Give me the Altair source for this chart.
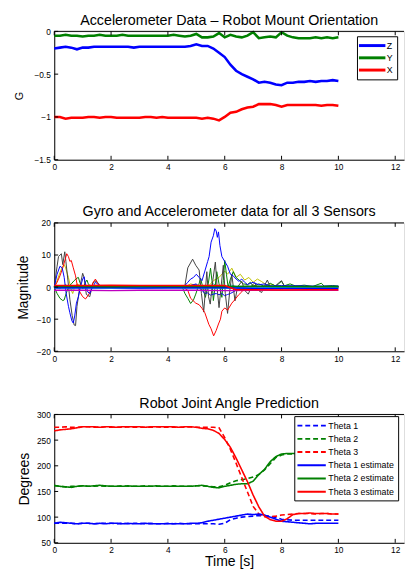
import altair as alt
import pandas as pd

FONT = "Liberation Sans"
W = 357
H = 131
XMAX = 12.31

x_ticks = [0, 2, 4, 6, 8, 10, 12]
y1_ticks = [0, -0.5, -1, -1.5]
y2_ticks = [-20, -10, 0, 10, 20]
y3_ticks = [50, 100, 150, 200, 250, 300]

# ---------------- Panel 1 : accelerometer (G) ----------------
t_grid = [0.0, 0.2, 0.4, 0.6, 0.8, 1.0, 1.2, 1.4, 1.6, 1.8, 2.0, 2.2, 2.4, 2.6, 2.8,
          3.0, 3.2, 3.4, 3.6, 3.8, 4.0, 4.2, 4.4, 4.6, 4.8, 5.0, 5.2, 5.4, 5.6, 5.8,
          6.0, 6.2, 6.4, 6.6, 6.8, 7.0, 7.2, 7.4, 7.6, 7.8, 8.0, 8.2, 8.4, 8.6, 8.8,
          9.0, 9.2, 9.4, 9.6, 9.8, 10.0]
acc_z = [-0.20, -0.19, -0.18, -0.19, -0.21, -0.19, -0.19, -0.18, -0.18, -0.18,
         -0.18, -0.18, -0.18, -0.18, -0.19, -0.18, -0.18, -0.18, -0.18, -0.18,
         -0.18, -0.18, -0.18, -0.18, -0.17, -0.15, -0.17, -0.17, -0.20, -0.25,
         -0.30, -0.39, -0.46, -0.50, -0.53, -0.56, -0.60, -0.59, -0.60, -0.62,
         -0.63, -0.60, -0.60, -0.59, -0.59, -0.58, -0.59, -0.58, -0.58, -0.57, -0.58]
acc_y = [-0.05, -0.05, -0.04, -0.05, -0.05, -0.06, -0.05, -0.05, -0.04, -0.05,
         -0.05, -0.05, -0.04, -0.05, -0.05, -0.05, -0.05, -0.05, -0.05, -0.05,
         -0.05, -0.04, -0.05, -0.06, -0.05, -0.03, -0.07, -0.07, -0.06, -0.02,
         -0.07, -0.04, -0.06, -0.07, -0.05, -0.01, -0.08, -0.07, -0.06, -0.07,
         -0.01, -0.05, -0.07, -0.08, -0.08, -0.08, -0.07, -0.08, -0.07, -0.08, -0.07]
acc_x = [-1.00, -1.00, -1.02, -1.01, -1.01, -1.01, -1.00, -1.00, -1.01, -1.00,
         -1.00, -1.01, -1.01, -1.01, -1.01, -1.01, -1.00, -1.00, -1.01, -1.00,
         -1.01, -1.01, -1.01, -1.01, -1.01, -1.01, -1.02, -1.01, -1.02, -1.04,
         -1.00, -0.95, -0.94, -0.91, -0.89, -0.88, -0.85, -0.85, -0.85, -0.86,
         -0.88, -0.86, -0.86, -0.86, -0.86, -0.86, -0.86, -0.87, -0.86, -0.86, -0.87]
acc_names = ["Z", "Y", "X"]
acc_colors = ["#0000ff", "#008000", "#ff0000"]

# ---------------- Panel 2 : gyro + accelerometer, 3 sensors ----------------
g_k_t = [0, 0.1, 0.15, 0.25, 0.3, 0.37, 0.41, 0.48, 0.55, 0.63, 0.7, 0.75, 0.8, 0.9, 1.0,
         1.05, 1.13, 1.25, 1.36, 1.48, 1.6, 1.7, 2.5, 3.5, 4.5, 4.6, 4.7, 4.87, 4.98, 5.1,
         5.18, 5.26, 5.37, 5.43, 5.49, 5.58, 5.67, 5.74, 5.8, 5.87, 5.95, 6.02, 6.1, 6.18, 6.25,
         6.36, 6.45, 6.6, 6.7, 6.83, 6.95, 7.06, 7.18, 7.3, 7.4, 7.5, 7.6, 7.7, 7.8, 7.9,
         8.0, 8.1, 8.3, 8.5, 8.8, 9.1, 9.4, 9.7, 10.0]
g_k_v = [0, 6.5, 9.5, 10.4, 7, 11, 8, 2.2, -3.8, -8.8, -11.8, -12, -6, 0, 4.3,
         3, -2.3, -3, 1.3, 2, 0.5, 0, 0.1, 0, 0.1, 0.5, 6, 8.7, 6.8, 5.3,
         -2, -7.8, 4.8, -3, -5.3, 2, 7.8, -1, -6.4, 0, 6.8, -2, -8.2, -1, 3.9,
         -4.3, 0, 1.8, -1, -2.2, 0.5, 1.3, -1, -1.7, 0.5, 2.2, 0, -0.2, 0.5, 1.3,
         2, 0.2, -0.3, 0.3, 0, 0.2, -0.2, 0.1, 0]
g_r_t = [0, 0.1, 0.2, 0.3, 0.38, 0.44, 0.5, 0.55, 0.6, 0.67, 0.75, 0.8, 0.9, 1.0, 1.1,
         1.2, 1.3, 1.37, 1.45, 1.5, 1.6, 1.7, 3, 4.5, 4.7, 4.8, 4.98, 5.1, 5.2, 5.3,
         5.44, 5.52, 5.61, 5.7, 5.78, 5.85, 5.9, 6.0, 6.1, 6.25, 6.35, 6.48, 6.6, 6.7, 6.85,
         7.0, 7.5, 8, 9, 10]
g_r_v = [0, 1.5, 3.5, 6, 8.5, 10.4, 9.5, 8, 8.3, 6, 3.5, 1, -1.5, -3, -3.7,
         -2.5, -0.8, 1.5, 2.5, 1.5, 0.5, 0.3, 0.3, 0.2, -1, -3.5, -5, -5.5, -6.6, -8,
         -11.6, -13, -15.2, -13.5, -11.5, -10, -7.5, -6.5, -7.2, -5, -4, -2.5, -1.5, 0, -0.5,
         0.3, 0, 0.2, 0, 0]
g_b_t = [0, 0.1, 0.2, 0.28, 0.35, 0.42, 0.5, 0.55, 0.62, 0.67, 0.72, 0.78, 0.85, 0.92, 1.0,
         1.05, 1.1, 1.18, 1.25, 1.35, 1.45, 1.52, 1.6, 1.7, 3, 4.5, 4.6, 4.7, 4.8, 4.9,
         5.0, 5.1, 5.2, 5.3, 5.4, 5.45, 5.52, 5.6, 5.65, 5.7, 5.74, 5.78, 5.83, 5.9, 6.0,
         6.1, 6.2, 6.3, 6.4, 6.5, 6.6, 6.7, 6.8, 7.0, 7.2, 7.4, 7.6, 8.0, 8.5, 9, 10]
g_b_v = [0, 4, 6.5, 6, 3, -2, -6, -8, -10.5, -11.2, -9, -5, -3, 0, 2.5,
         3.2, 1, -1.5, -2, 0, 1.5, 1, 0.3, 0.2, 0.2, 0.2, 0.5, 1.5, 2.5, 3,
         4, 3, 2, 5, 8, 9.5, 14, 16, 18.2, 17.5, 15.5, 17.2, 13, 9.5, 8,
         6.5, 4, 3.5, 2.5, 1.8, 2.5, 1.5, 0.8, 1.5, 0.7, 1, 0.3, 0.5, 0.3, 0.2, 0.2]
g_b2_t = [0, 1.7, 4.6, 4.8, 5.0, 5.1, 5.2, 5.3, 5.4, 5.5, 5.6, 5.7, 5.8, 5.9, 6.0,
          6.1, 6.2, 6.3, 6.4, 6.6, 6.8, 7.0, 7.5, 8, 8.5, 9, 10]
g_b2_v = [0, 0, 0, 0.5, 1, 0, -1, -2, -1.8, -2.5, -2.2, -2, -2.4, -2, -2.7,
          -2.3, -2, -1.5, -1, 0, 0.3, 0, 0.4, 0.2, 0.4, 0.3, 0.3]
g_g_t = [0, 0.1, 0.2, 0.3, 0.35, 0.4, 0.5, 0.6, 0.7, 0.8, 0.85, 0.9, 1.0, 1.1, 1.15,
         1.2, 1.3, 1.4, 1.6, 1.7, 3, 4.5, 4.6, 4.7, 4.8, 4.9, 4.98, 5.08, 5.15, 5.25,
         5.32, 5.42, 5.5, 5.55, 5.6, 5.66, 5.72, 5.8, 5.9, 5.95, 6.0, 6.06, 6.12, 6.2, 6.3,
         6.4, 6.53, 6.65, 6.8, 6.9, 7.0, 7.2, 7.4, 7.6, 7.8, 8.0, 8.1, 8.3, 8.5, 8.8,
         9.1, 9.4, 9.5, 9.8, 10]
g_g_v = [0, -2, -3.5, -4.2, -4, -2.5, 0, 1, 2, 2.8, 3, 1.5, -0.5, 1.5, 2.2,
         1, 0, 0.5, 0.2, 0.1, 0.1, 0.1, -2, -3.5, -5.1, -4, -2.2, 0.5, 2.8, -1,
         -3.2, 1, 5.9, 2, -4.2, 0, 4.8, 1, -3.2, 2, 8.3, 4, 0, 2.5, 4.8,
         3, 2, 1, 0.8, 1.5, 0.3, 1, 0.2, 1.2, 0.3, 1.8, 0.4, 1, 0.3, 0.6,
         0.2, 1.2, 0.3, 0.5, 0.3]
g_y_t = [0, 0.1, 0.2, 0.3, 0.35, 0.4, 0.5, 0.6, 0.65, 0.7, 0.8, 0.9, 1.0, 1.2, 1.6,
         4.6, 4.8, 5.0, 5.2, 5.4, 5.6, 5.8, 6.0, 6.1, 6.25, 6.4, 6.55, 6.7, 6.85, 7.0,
         7.15, 7.3, 7.5, 7.7, 8.0, 8.1, 8.5, 10]
g_y_v = [0, 2, 4.5, 6.5, 7, 6, 3, -1, -2, -0.5, 1, 0.5, 0, 0.3, 0,
         0, 1, 0.5, -1, 0, 2, 3, 5, 4, 5.9, 3, 4, 2.2, 3, 1.5,
         2.5, 1.7, 0.5, 0.8, -1, 0.2, 0, 0]
g_c_t = [0, 0.2, 0.4, 0.6, 0.8, 1.0, 1.4, 2, 4.6, 5.0, 5.3, 5.6, 5.9, 6.2, 6.6, 7, 8, 10]
g_c_v = [0, -0.5, 0.8, -0.8, 0.5, -0.3, 0.2, 0, 0, 0.8, -0.6, 1, -0.5, 0.7, -0.3, 0.3, 0, 0]

a_t = [0, 1, 2, 3, 4, 5, 6, 7, 8, 9, 10]
a_r_t = [0, 1, 2, 3, 4, 5, 6, 6.4, 7, 8, 9, 10]
a_r_v = [0.5, 0.5, 0.6, 0.5, 0.5, 0.5, 0.5, -0.8, -0.8, -0.9, -0.8, -0.8]
a_m_v = [-1.0, -1.0, -1.1, -1.0, -1.0, -1.0, -1.1, -1.0, -1.0, -1.0, -1.0]
a_c_v = [-0.3, -0.3, -0.3, -0.2, -0.3, -0.3, -0.3, -0.3, -0.2, -0.3, -0.3]
a_g_v = [0.2, 0.2, 0.1, 0.2, 0.2, 0.2, 0.2, 0.3, 0.2, 0.2, 0.2]
a_b_v = [-0.2, -0.2, -0.2, -0.3, -0.2, -0.2, -0.2, -0.4, -0.4, -0.4, -0.4]
a_k_v = [0.1, 0.1, 0.1, 0.1, 0.0, 0.1, 0.1, 0.1, 0.1, 0.1, 0.1]

gyro_series = [("gc", g_c_t, g_c_v), ("gy", g_y_t, g_y_v), ("gg", g_g_t, g_g_v),
               ("gb2", g_b2_t, g_b2_v), ("gk", g_k_t, g_k_v), ("gr", g_r_t, g_r_v),
               ("gb", g_b_t, g_b_v)]
gyro_colors = ["#00bfbf", "#bfbf00", "#008000", "#0000ff", "#404040", "#ff0000", "#0000ff"]
acc_series = [("ak", a_t, a_k_v), ("ac", a_t, a_c_v), ("ab", a_t, a_b_v),
              ("ag", a_t, a_g_v), ("am", a_t, a_m_v), ("ar", a_r_t, a_r_v)]
acc2_colors = ["#404040", "#00bfbf", "#0000ff", "#008000", "#bf00bf", "#ff0000"]

# ---------------- Panel 3 : joint angles ----------------
th1 = [88, 88, 88, 88, 87, 88, 88, 87, 88, 88,
       88, 87, 88, 87, 88, 88, 87, 88, 87, 87,
       88, 87, 88, 87, 87, 87, 87, 87, 87, 86,
       88, 95, 98, 100, 101, 102, 103, 103, 102, 99,
       96, 95, 94, 94, 94, 94, 94, 94, 94, 94, 94]
th1_est = [88, 90, 89, 88, 87, 88, 88, 87, 88, 87,
           88, 88, 87, 88, 87, 87, 88, 87, 87, 87,
           87, 87, 87, 87, 88, 88, 89, 92, 94, 96,
           98, 100, 102, 104, 106, 105, 106, 104, 100, 96,
           92, 91, 90, 89, 88, 87, 88, 88, 88, 88, 88]
th2 = [161, 160, 159, 160, 160, 161, 160, 160, 161, 160,
       160, 160, 161, 160, 160, 160, 161, 160, 160, 160,
       160, 161, 160, 160, 160, 161, 161, 160, 159, 159,
       162, 167, 171, 173, 175, 178, 183, 192, 204, 216,
       221, 223, 223, 223, 222, 223, 223, 223, 222, 223, 223]
th2_est = [162, 160, 159, 158, 160, 161, 160, 161, 162, 161,
           160, 160, 160, 161, 160, 160, 160, 160, 161, 160,
           160, 160, 160, 160, 160, 161, 162, 160, 158, 157,
           160, 162, 164, 165, 165, 170, 183, 193, 208, 218,
           223, 224, 224, 224, 223, 224, 224, 223, 224, 224, 224]
th3 = [275, 275, 276, 275, 275, 276, 276, 275, 275, 276,
       275, 275, 275, 276, 275, 275, 275, 275, 276, 275,
       275, 275, 275, 275, 276, 275, 275, 275, 275, 274,
       255, 232, 205, 177, 149, 121, 106, 101, 101, 102,
       104, 105, 106, 107, 107, 107, 106, 107, 107, 106, 106]
th3_est = [268, 270, 271, 272, 274, 276, 276, 276, 275, 276,
           276, 275, 276, 276, 276, 276, 275, 276, 276, 276,
           276, 276, 275, 276, 276, 275, 273, 272, 269, 263,
           251, 236, 215, 192, 169, 143, 120, 102, 95, 92,
           92, 97, 105, 107, 107, 108, 107, 107, 107, 106, 106]
th_names = ["Theta 1", "Theta 2", "Theta 3",
            "Theta 1 estimate", "Theta 2 estimate", "Theta 3 estimate"]
th_colors = ["#0000ff", "#008000", "#ff0000", "#0000ff", "#008000", "#ff0000"]
th_dash = [[5, 3], [5, 3], [5, 3], [1, 0], [1, 0], [1, 0]]


# ---------------- helpers ----------------
def long_df(series):
    rows = []
    for name, ts, vs in series:
        for k, (t, v) in enumerate(zip(ts, vs)):
            rows.append({"t": t, "v": v, "s": name, "o": k})
    return pd.DataFrame(rows)


xscale = alt.Scale(domain=[0, XMAX], nice=False, zero=False)


def x_axis(title=None):
    kw = dict(values=x_ticks, format="d", ticks=False, grid=False, domainColor="black",
              domainWidth=1, labelFontSize=8.5, labelColor="black", labelPadding=3,
              labelFlush=False, labelOverlap=False)
    if title:
        kw.update(title=title, titleFontSize=14.3, titleFontWeight="normal",
                  titleColor="black", titleBaseline="alphabetic", titleY=23)
    else:
        kw.update(title=None)
    return alt.Axis(**kw)


def y_axis(ticks, title, tsize, tx):
    return alt.Axis(values=ticks, format="~r", ticks=False, grid=False, domainColor="black",
                    domainWidth=1, labelFontSize=8.5, labelColor="black", labelPadding=4,
                    labelFlush=False, labelOverlap=False, title=title, titleFontSize=tsize,
                    titleFontWeight="normal", titleColor="black", titleAngle=270,
                    titleAlign="center", titleBaseline="middle", titleX=tx, titleY=H / 2)


def frame(yscale, xax, yax):
    one = pd.DataFrame({"a": [0]})
    xt = pd.DataFrame({"t": x_ticks})
    top = alt.Chart(one).mark_rule(color="black", strokeWidth=1).encode(
        x=alt.value(0), x2=alt.value(W), y=alt.value(0))
    bt = alt.Chart(xt).mark_rule(color="black", strokeWidth=1).encode(
        x=alt.X("t:Q", scale=xscale, axis=xax), y=alt.value(H), y2=alt.value(H - 4))
    tt = alt.Chart(xt).mark_rule(color="black", strokeWidth=1).encode(
        x=alt.X("t:Q", scale=xscale, axis=xax), y=alt.value(0), y2=alt.value(4))
    return [top, bt, tt]


def yframe(yscale, yticks, yax):
    yt = pd.DataFrame({"v": yticks})
    return alt.Chart(yt).mark_rule(color="black", strokeWidth=1).encode(
        y=alt.Y("v:Q", scale=yscale, axis=yax), x=alt.value(0), x2=alt.value(4))


def title(text):
    return alt.Title(text, fontSize=14.6, font=FONT, fontWeight="normal", color="black",
                     anchor="middle", frame="group", offset=-12, baseline="alphabetic")


# ---------------- panel 1 ----------------
ys1 = alt.Scale(domain=[-1.5, 0], nice=False, zero=False)
xa1 = x_axis()
ya1 = y_axis(y1_ticks, "G", 11, -35)
df1 = long_df([("Z", t_grid, acc_z), ("Y", t_grid, acc_y), ("X", t_grid, acc_x)])
leg1 = alt.Legend(orient="none", legendX=309, legendY=5, title=None,
                  symbolType="M-3,0H3", symbolSize=81, symbolStrokeWidth=3,
                  symbolOffset=6, labelOffset=9, labelFontSize=9, labelFont=FONT,
                  labelColor="black", padding=3.5, rowPadding=0.5,
                  strokeColor="black", fillColor="white")
lines1 = alt.Chart(df1).mark_line(strokeWidth=2.6).encode(
    x=alt.X("t:Q", scale=xscale, axis=xa1),
    y=alt.Y("v:Q", scale=ys1, axis=ya1),
    color=alt.Color("s:N", scale=alt.Scale(domain=acc_names, range=acc_colors), legend=leg1),
    order="o:Q")
p1 = alt.layer(lines1, *frame(ys1, xa1, ya1), yframe(ys1, y1_ticks, ya1)).properties(
    width=W, height=H, title=title("Accelerometer Data \u2013 Robot Mount Orientation"))

# ---------------- panel 2 ----------------
ys2 = alt.Scale(domain=[-20, 20], nice=False, zero=False)
xa2 = x_axis()
ya2 = y_axis(y2_ticks, "Magnitude", 14, -31)
df2g = long_df(gyro_series)
df2a = long_df(acc_series)
gyro = alt.Chart(df2g).mark_line(strokeWidth=1).encode(
    x=alt.X("t:Q", scale=xscale, axis=xa2),
    y=alt.Y("v:Q", scale=ys2, axis=ya2),
    color=alt.Color("s:N", scale=alt.Scale(domain=[s[0] for s in gyro_series], range=gyro_colors),
                    legend=None),
    order="o:Q")
accl = alt.Chart(df2a).mark_line(strokeWidth=1.5).encode(
    x=alt.X("t:Q", scale=xscale, axis=xa2),
    y=alt.Y("v:Q", scale=ys2, axis=ya2),
    stroke=alt.Stroke("s:N", scale=alt.Scale(domain=[s[0] for s in acc_series], range=acc2_colors),
                      legend=None),
    order="o:Q")
p2 = alt.layer(gyro, accl, *frame(ys2, xa2, ya2), yframe(ys2, y2_ticks, ya2)).properties(
    width=W, height=H, title=title("Gyro and Accelerometer data for all 3 Sensors"))

# ---------------- panel 3 ----------------
ys3 = alt.Scale(domain=[50, 300], nice=False, zero=False)
xa3 = x_axis("Time [s]")
ya3 = y_axis(y3_ticks, "Degrees", 14.3, -30)
df3 = long_df([(n, t_grid, v) for n, v in zip(th_names, [th1, th2, th3, th1_est, th2_est, th3_est])])
leg3 = alt.Legend(orient="none", legendX=245, legendY=1.7, title=None,
                  symbolType="M-3,0H3", symbolSize=93, symbolStrokeWidth=2,
                  symbolOffset=8, labelOffset=11, labelFontSize=9, labelFont=FONT,
                  labelColor="black", padding=3.7, rowPadding=2.5,
                  strokeColor="black", fillColor="white")
lines3 = alt.Chart(df3).mark_line(strokeWidth=1.6).encode(
    x=alt.X("t:Q", scale=xscale, axis=xa3),
    y=alt.Y("v:Q", scale=ys3, axis=ya3),
    color=alt.Color("s:N", scale=alt.Scale(domain=th_names, range=th_colors), legend=leg3),
    strokeDash=alt.StrokeDash("s:N", scale=alt.Scale(domain=th_names, range=th_dash), legend=leg3),
    order="o:Q")
p3 = alt.layer(lines3, *frame(ys3, xa3, ya3), yframe(ys3, y3_ticks, ya3)).properties(
    width=W, height=H, title=title("Robot Joint Angle Prediction"))

chart = alt.vconcat(p1, p2, p3, spacing=64.5, bounds="flush").resolve_scale(
    color="independent", strokeDash="independent", stroke="independent", y="independent"
).resolve_legend(color="independent", strokeDash="independent", stroke="independent").properties(
    padding={"left": 5.2, "top": -2, "right": 0, "bottom": 0}
).configure_view(stroke=None).configure_axis(labelFont=FONT, titleFont=FONT).configure(
    font=FONT)

chart.save("out.html", embed_options={"renderer": "svg", "actions": False})
